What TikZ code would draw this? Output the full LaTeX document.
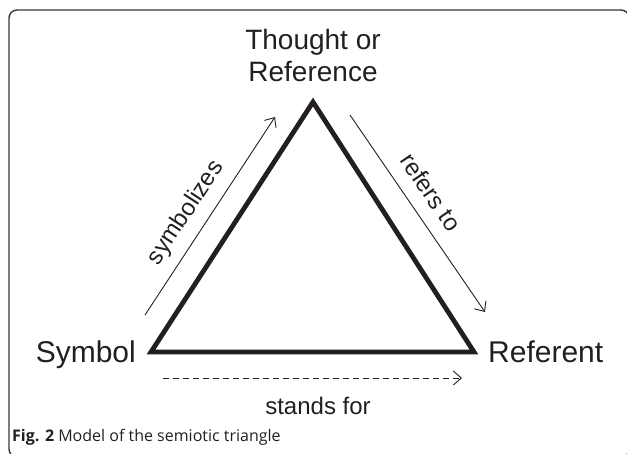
\documentclass[tikz,border=0pt]{standalone}
\usepackage{fontspec}
\setmainfont{Liberation Sans}
\newfontfamily\capfont{Open Sans}
\usetikzlibrary{arrows.meta}
\definecolor{ink}{HTML}{231F20}
\begin{document}
\begin{tikzpicture}[x=1pt,y=-1pt,
  lbl/.style={font=\fontsize{28}{32}\selectfont, text=ink, inner sep=0pt},
  side/.style={font=\fontsize{30}{34}\selectfont, text=ink, inner sep=0pt},
  rel/.style={font=\fontsize{24}{28}\selectfont, text=ink, inner sep=0pt},
  tri/.style={draw=ink, line width=4.8pt, line join=miter},
  relarrow/.style={draw=ink, line width=0.9pt, -{Straight Barb[length=8pt,width=14pt]}},
  frame/.style={draw=ink!90, line width=1.4pt, rounded corners=8pt}]
\useasboundingbox (0,0) rectangle (627,453);
\clip (0,0) rectangle (627,453);
\draw[frame] (9,10) rectangle (629,457);
% vertices
\coordinate (apex) at (313,102);
\coordinate (L) at (151,352);
\coordinate (R) at (474,352);
\draw[tri] (apex) -- (L) -- (R) -- cycle;
% labels
\node[lbl, align=center, anchor=south] (thought) at (313,82) {Thought or\\Reference};
\node[side, anchor=base east] (symbol) at (136,362) {Symbol};
\node[side, anchor=base west] (referent) at (488,362) {Referent};
% relation arrows
\coordinate (s1) at (145,315);
\coordinate (s2) at (275,117);
\coordinate (r1) at (350,115);
\coordinate (r2) at (485,312);
\coordinate (d1) at (163,378);
\coordinate (d2) at (462,378);
\draw[relarrow] (s1) -- (s2);
\draw[relarrow] (r1) -- (r2);
\draw[relarrow, dash pattern=on 6pt off 4pt] (d1) -- (d2);
\node[rel, rotate=56.7] (symbolizes) at (186,213) {symbolizes};
\node[rel, rotate=-55.6] (refersto) at (431,192) {refers to};
\node[rel, anchor=base] (standsfor) at (318,414) {stands for};
% caption
\node[anchor=base west, inner sep=0pt, text=ink, font=\capfont\fontsize{16}{19}\selectfont] (caption) at (12,441) {\textbf{Fig. 2} Model of the semiotic triangle};
\end{tikzpicture}
\end{document}
